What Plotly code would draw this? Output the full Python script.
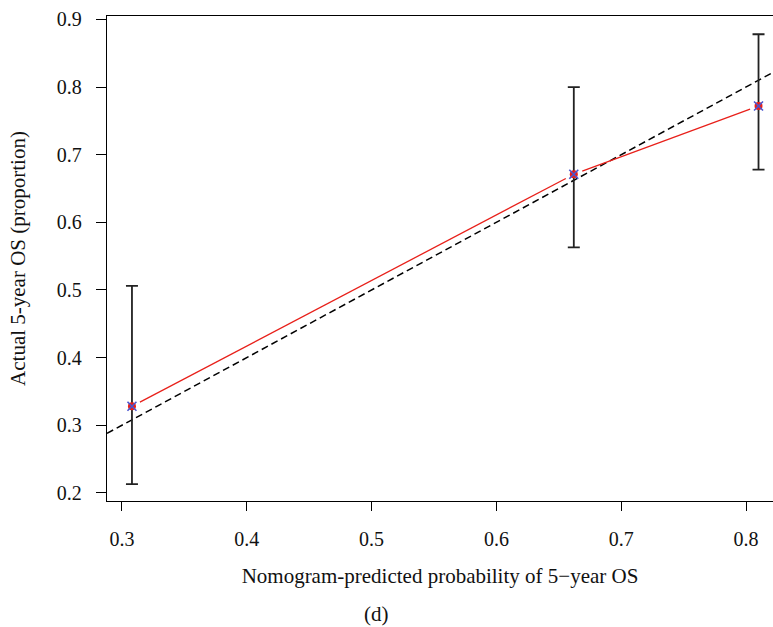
import plotly.graph_objects as go

# Calibration groups: nomogram-predicted vs observed 5-year OS
predicted = [0.308, 0.662, 0.810]
observed = [0.328, 0.671, 0.772]
ci_lower = [0.213, 0.563, 0.678]
ci_upper = [0.506, 0.800, 0.878]

x_ticks = [0.3, 0.4, 0.5, 0.6, 0.7, 0.8]
y_ticks = [0.2, 0.3, 0.4, 0.5, 0.6, 0.7, 0.8, 0.9]

X_RANGE = [0.288, 0.8216]
Y_RANGE = [0.188, 0.905]

W, H = 773, 627
M = dict(l=107, r=0, t=16, b=126)
px_x = (W - M["l"] - M["r"]) / (X_RANGE[1] - X_RANGE[0])
px_y = (H - M["t"] - M["b"]) / (Y_RANGE[1] - Y_RANGE[0])

FONT = "Liberation Serif"

fig = go.Figure()

# Ideal reference line y = x
fig.add_trace(go.Scatter(
    x=X_RANGE, y=X_RANGE, mode="lines",
    line=dict(color="black", width=1.5, dash="7px,4px"),
    hoverinfo="skip", showlegend=False,
))

# Connecting line between groups, leaving a small gap around each point
gap_px = 9
for i in range(len(predicted) - 1):
    x0, y0 = predicted[i], observed[i]
    x1, y1 = predicted[i + 1], observed[i + 1]
    dx, dy = (x1 - x0) * px_x, (y1 - y0) * px_y
    length = (dx ** 2 + dy ** 2) ** 0.5
    f = gap_px / length
    fig.add_trace(go.Scatter(
        x=[x0 + (x1 - x0) * f, x1 - (x1 - x0) * f],
        y=[y0 + (y1 - y0) * f, y1 - (y1 - y0) * f],
        mode="lines", line=dict(color="#e8201a", width=1.3),
        hoverinfo="skip", showlegend=False,
    ))

# Confidence intervals
fig.add_trace(go.Scatter(
    x=predicted, y=observed, mode="markers",
    marker=dict(color="#e8201a", size=8, symbol="circle"),
    error_y=dict(
        type="data", symmetric=False,
        array=[u - o for u, o in zip(ci_upper, observed)],
        arrayminus=[o - l for o, l in zip(observed, ci_lower)],
        color="#222222", thickness=1.8, width=6,
    ),
    showlegend=False,
))

# Cross markers on top of the points
fig.add_trace(go.Scatter(
    x=predicted, y=observed, mode="markers",
    marker=dict(symbol="x-thin", size=9, line=dict(color="#4a56d0", width=1.6)),
    showlegend=False,
))

fig.update_layout(
    width=W, height=H, margin=M,
    plot_bgcolor="white", paper_bgcolor="white",
    font=dict(family=FONT, size=20, color="#111111"),
    xaxis=dict(
        range=X_RANGE, tickvals=x_ticks, ticktext=[f"{v:.1f}" for v in x_ticks],
        tickfont=dict(family=FONT, size=20),
        showgrid=False, zeroline=False,
        showline=True, linecolor="black", linewidth=1.3, mirror=True,
        ticks="outside", ticklen=9, tickwidth=1.3, tickcolor="black",
        ticklabelstandoff=11,
        title=dict(text="Nomogram-predicted probability of 5\u2212year OS",
                   font=dict(family=FONT, size=21), standoff=19),
    ),
    yaxis=dict(
        range=Y_RANGE, tickvals=y_ticks, ticktext=[f"{v:.1f}" for v in y_ticks],
        tickfont=dict(family=FONT, size=20),
        showgrid=False, zeroline=False,
        showline=True, linecolor="black", linewidth=1.3, mirror=False,
        ticks="outside", ticklen=10, tickwidth=1.3, tickcolor="black",
        ticklabelstandoff=10,
        title=dict(text="Actual 5-year OS (proportion)",
                   font=dict(family=FONT, size=21), standoff=25),
    ),
)

# "(d)" panel label centred below the axis title, positioned in pixels
plot_w = W - M["l"] - M["r"]
plot_h = H - M["t"] - M["b"]
fig.add_annotation(
    text="(d)", xref="paper", yref="paper",
    x=(376 - M["l"]) / plot_w,
    y=-(614 - (H - M["b"])) / plot_h,
    xanchor="center", yanchor="middle",
    showarrow=False, font=dict(family=FONT, size=21),
)

fig.write_html("out.html")
